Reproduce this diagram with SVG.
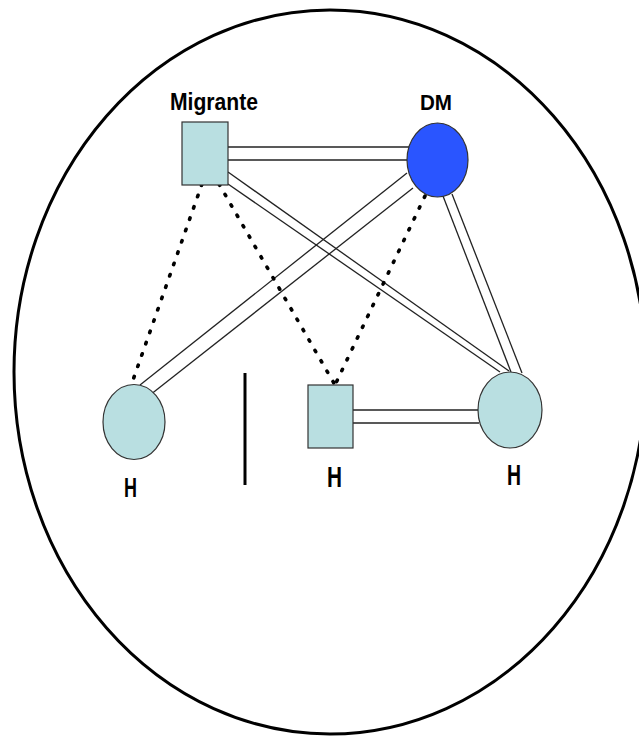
<svg xmlns="http://www.w3.org/2000/svg" width="639" height="738" viewBox="0 0 639 738">
<style>
.bg{fill:#ffffff}
.frame{fill:none;stroke:#000;stroke-width:3}
.node{fill:#B9DFE1;stroke:#333;stroke-width:1.2}
.dm{fill:#2A55FF;stroke:#333;stroke-width:1.2}
.dbl{stroke:#222;stroke-width:1.3;fill:none}
.dot{stroke:#000;stroke-width:3.6;stroke-linecap:round;stroke-dasharray:1.5 10.5;fill:none}
.lbl{font-family:"Liberation Sans",Arial,sans-serif;font-weight:bold;fill:#000}
</style>
<rect class="bg" x="0" y="0" width="639" height="738"/>
<ellipse class="frame" cx="330" cy="372" rx="316" ry="362"/>
<line x1="245" y1="373" x2="245" y2="485" stroke="#000" stroke-width="3"/>
<g id="connectors">
  <line class="dbl" x1="228" y1="147" x2="409" y2="147"/>
  <line class="dbl" x1="228" y1="160" x2="407" y2="160"/>
  <line class="dbl" x1="228" y1="172" x2="509" y2="371"/>
  <line class="dbl" x1="228" y1="184" x2="500" y2="372"/>
  <line class="dbl" x1="407" y1="173" x2="140" y2="385"/>
  <line class="dbl" x1="413" y1="188" x2="150" y2="395"/>
  <line class="dbl" x1="443" y1="196" x2="511" y2="372"/>
  <line class="dbl" x1="452" y1="194" x2="522" y2="373"/>
  <line class="dbl" x1="353" y1="410" x2="479" y2="410"/>
  <line class="dbl" x1="353" y1="423" x2="479" y2="423"/>
  <line class="dot" x1="202" y1="184" x2="133" y2="380"/>
  <line class="dot" x1="219" y1="184" x2="335" y2="385"/>
  <line class="dot" x1="425" y1="196" x2="335" y2="385"/>
</g>
<g id="migrante">
  <rect class="node" x="182" y="122" width="46" height="63"/>
  <text class="lbl" x="170" y="110" font-size="23" textLength="88" lengthAdjust="spacingAndGlyphs">Migrante</text>
</g>
<g id="dm">
  <ellipse class="dm" cx="437.5" cy="160" rx="30.5" ry="37"/>
  <text class="lbl" x="420" y="110" font-size="22" textLength="32" lengthAdjust="spacingAndGlyphs">DM</text>
</g>
<g id="h-left">
  <ellipse class="node" cx="134" cy="422" rx="31" ry="37.5"/>
  <text class="lbl" x="124" y="497" font-size="28" textLength="13" lengthAdjust="spacingAndGlyphs">H</text>
</g>
<g id="h-middle">
  <rect class="node" x="308" y="385" width="45" height="63"/>
  <text class="lbl" x="327" y="487" font-size="29" textLength="15" lengthAdjust="spacingAndGlyphs">H</text>
</g>
<g id="h-right">
  <ellipse class="node" cx="510" cy="410" rx="32" ry="38"/>
  <text class="lbl" x="507" y="485" font-size="30" textLength="14" lengthAdjust="spacingAndGlyphs">H</text>
</g>
</svg>
